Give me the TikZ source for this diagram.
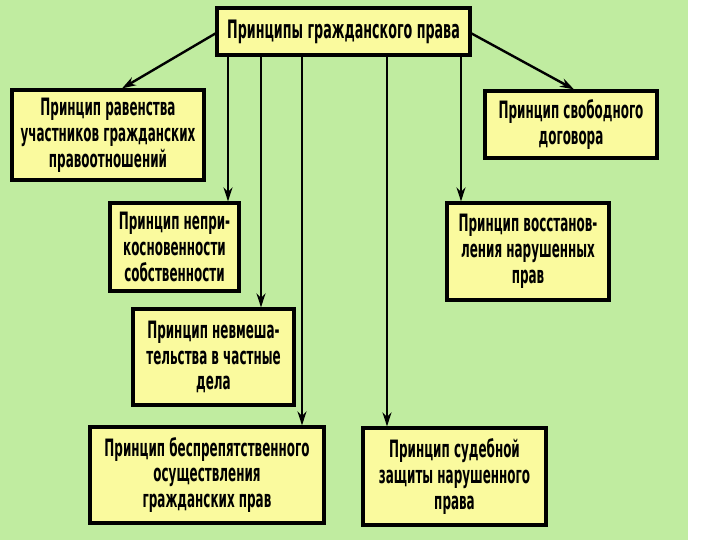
\documentclass[tikz,border=0pt]{standalone}
\usepackage{fontspec}
\setmainfont{DejaVu Sans}[FakeStretch=0.5,BoldFont={DejaVu Sans Bold}]
\usetikzlibrary{arrows.meta}
\definecolor{bggreen}{RGB}{192,236,160}
\definecolor{boxyellow}{RGB}{250,250,158}
\tikzset{
  pbox/.style={draw=black, line width=3.2bp, fill=boxyellow, align=center,
    inner sep=0pt, font=\bfseries\fontsize{24}{26}\selectfont},
  arr/.style={draw=black, line width=2.4bp, -{Stealth[length=14bp,width=9bp]}},
  plain/.style={draw=black, line width=2.4bp}
}
\begin{document}
\begin{tikzpicture}[x=1bp,y=-1bp]
\useasboundingbox (0,0) rectangle (720,540);
\fill[white] (0,0) rectangle (720,540);
\fill[bggreen] (0,0) rectangle (688,540);

\node[pbox, minimum width=253bp, minimum height=47bp, font=\bfseries\fontsize{25.5}{28}\selectfont] (top) at (343.5,31.5) {Принципы гражданского права};
\node[pbox, minimum width=192bp, minimum height=90bp] (b2) at (108,135) {Принцип равенства\\участников гражданских\\правоотношений};
\node[pbox, minimum width=129bp, minimum height=88bp] (b3) at (174.5,247) {Принцип непри-\\косновенности\\собственности};
\node[pbox, minimum width=172bp, minimum height=67bp] (b4) at (571,124.5) {Принцип свободного\\договора};
\node[pbox, minimum width=162bp, minimum height=97bp] (b5) at (528,251.5) {Принцип восстанов-\\ления нарушенных\\прав};
\node[pbox, minimum width=161bp, minimum height=96bp] (b6) at (213.5,357) {Принцип невмеша-\\тельства в частные\\дела};
\node[pbox, minimum width=234bp, minimum height=96bp] (b7) at (207,475) {Принцип беспрепятственного\\осуществления\\гражданских прав};
\node[pbox, minimum width=183bp, minimum height=97bp] (b8) at (454.5,476.5) {Принцип судебной\\защиты нарушенного\\права};

\coordinate (x3) at (228,0);
\coordinate (x6) at (261,0);
\coordinate (x7) at (302,0);
\coordinate (x8) at (387,0);
\coordinate (x5) at (461,0);
\coordinate (t2) at (122,0);
\coordinate (t4) at (574,0);

\draw[arr] (top.south -| x3) -- (b3.north -| x3);
\draw[arr] (top.south -| x6) -- (b6.north -| x6);
\draw[arr] (top.south -| x7) -- (b7.north -| x7);
\draw[arr] (top.south -| x8) -- (b8.north -| x8);
\draw[arr] (top.south -| x5) -- (b5.north -| x5);
\draw[arr] ([yshift=-2bp]top.west) -- (b2.north -| t2);
\draw[arr] ([yshift=-2bp]top.east) -- (b4.north -| t4);
\end{tikzpicture}
\end{document}
